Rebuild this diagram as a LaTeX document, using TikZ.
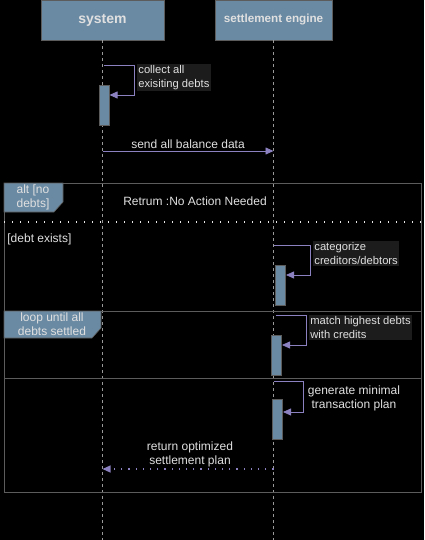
\documentclass[tikz,border=0pt]{standalone}
\usepackage{fontspec}
\setmainfont{Liberation Sans}
\usetikzlibrary{arrows.meta,positioning}
\definecolor{boxblue}{HTML}{6A8AA3}
\definecolor{msgcol}{HTML}{8B80C0}
\definecolor{framecol}{HTML}{5C5C5C}
\definecolor{txtcol}{HTML}{E0E0E0}
\definecolor{notebg}{HTML}{1C1C1C}

\begin{document}
\begin{tikzpicture}[x=1pt,y=-1pt,
  actor/.style={draw=framecol,fill=boxblue,text=txtcol,minimum height=40pt,inner sep=0pt},
  bar/.style={draw=framecol,fill=boxblue,minimum width=10pt,minimum height=40pt,inner sep=0pt},
  lifeline/.style={draw=gray!80,line width=0.6pt,dash pattern=on 3pt off 3pt},
  msg/.style={draw=msgcol,line width=0.8pt,-{Triangle[length=8pt,width=7pt]}},
  retmsg/.style={msg,line width=1.2pt,dash pattern=on 1.2pt off 6pt},
  lbl/.style={text=txtcol,font=\fontsize{12}{14}\selectfont,align=left,inner sep=1.2pt},
  note/.style={lbl,fill=notebg,anchor=north west,font=\fontsize{11.2}{14}\selectfont},
  frame/.style={draw=framecol,line width=0.8pt},
  tab/.style={fill=boxblue,draw=framecol,line width=0.6pt}]
\fill[black] (0,0) rectangle (424,540);
\useasboundingbox (0,0) rectangle (424,540);

\node[actor,minimum width=123pt,font=\bfseries\fontsize{14}{16}\selectfont] (sys) at (102.5,20) {system};
\node[actor,minimum width=117pt,font=\bfseries\fontsize{11.7}{13}\selectfont] (eng) at (273.5,20) {settlement engine};
\coordinate (sysend) at (102.5,540);
\coordinate (engend) at (273.5,540);
\draw[lifeline] (sys) -- (sysend);
\draw[lifeline] (eng) -- (engend);

\draw[frame] (4,183) rectangle (421,492);
\filldraw[tab] (4,183) -- (63,183) -- (63,202) -- (54,212) -- (4,212) -- cycle;
\node[lbl,align=center] (alt) at (33,197) {alt [no\\debts]};
\node[lbl] (noact) at (195,201) {Retrum :No Action Needed};
\draw[txtcol!80,line width=1.2pt,dash pattern=on 1.2pt off 6.8pt] (4,222) -- (421,222);
\node[lbl,anchor=west] (exists) at (6,239) {[debt exists]};

\draw[frame] (4,311) rectangle (421,378);
\filldraw[tab] (4,311) -- (101,311) -- (101,328) -- (92,338) -- (4,338) -- cycle;
\node[lbl,align=center] (loop) at (52,324) {loop until all\\debts settled};

\node[bar] (act1) at (104,105) {};
\coordinate (s1) at (104,65);
\coordinate (r1) at (109.5,95);
\draw[msg] (s1) -- ++(30,0) |- (r1);
\node[note] (collect) at (137,64) {collect all\\exisiting debts};

\coordinate (m1a) at (102.5,151);
\coordinate (m1b) at (273.5,151);
\draw[msg] (m1a) -- node[lbl,above=1pt] (send) {send all balance data} (m1b);

\node[bar] (act2) at (280.5,285) {};
\coordinate (s2) at (274,245);
\coordinate (r2) at (286,275);
\draw[msg] (s2) -- ++(36,0) |- (r2);
\node[note] (categ) at (313,241) {categorize\\creditors/debtors};

\node[bar] (act3) at (276.5,355) {};
\coordinate (s3) at (276,315);
\coordinate (r3) at (282,345);
\draw[msg] (s3) -- ++(30,0) |- (r3);
\node[note] (match) at (309,315) {match highest debts\\with credits};

\node[bar] (act4) at (277.5,419) {};
\coordinate (s4) at (274,381);
\coordinate (r4) at (283,412);
\draw[msg] (s4) -- ++(29,0) |- (r4);
\node[lbl,align=center] (gen) at (354,398) {generate minimal\\transaction plan};

\coordinate (m2a) at (273.5,469);
\coordinate (m2b) at (102.5,469);
\draw[retmsg] (m2a) -- (m2b);
\node[lbl,align=center] (ret) at (190,454) {return optimized\\settlement plan};
\end{tikzpicture}
\end{document}
